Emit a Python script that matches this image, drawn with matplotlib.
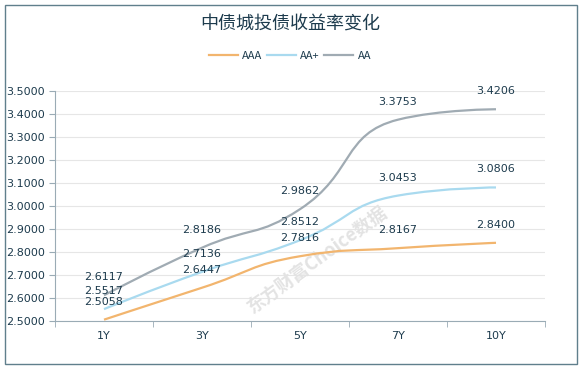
import matplotlib
matplotlib.use('Agg')
from matplotlib import pyplot as plt
from matplotlib.path import Path
from matplotlib.patches import PathPatch, Rectangle
from matplotlib.lines import Line2D
import numpy as np

plt.rcParams['font.family'] = ['Noto Sans CJK SC', 'DejaVu Sans']

categories = ['1Y', '3Y', '5Y', '7Y', '10Y']
aaa = [2.5058, 2.6447, 2.7816, 2.8167, 2.8400]
aa_plus = [2.5517, 2.7136, 2.8512, 3.0453, 3.0806]
aa = [2.6117, 2.8186, 2.9862, 3.3753, 3.4206]
series_names = ['AAA', 'AA+', 'AA']
colors = ['#f2b56e', '#a9daef', '#a0abb3']
yticks = [2.5 + 0.1 * i for i in range(11)]

text_color = '#1d3b4d'


def clamp(v, a, b):
    return min(max(v, min(a, b)), max(a, b))


def smooth_path(xs, ys, sx, sy, smooth=0.5):
    # same smoothing idea as the web chart lib, done in pixel space
    px = [float(v) * sx for v in xs]
    py = [float(v) * sy for v in ys]
    n = len(px)
    verts = [(px[0], py[0])]
    codes = [Path.MOVETO]
    cp0 = (px[0], py[0])
    for i in range(1, n):
        x, y = px[i], py[i]
        if i == n - 1:
            cp1 = (x, y)
            ncp0 = (x, y)
        else:
            prx, pry = px[i - 1], py[i - 1]
            nx, ny = px[i + 1], py[i + 1]
            vx, vy = nx - prx, ny - pry
            l0 = np.hypot(x - prx, y - pry)
            l1 = np.hypot(nx - x, ny - y)
            r = l1 / (l0 + l1)
            ncx = clamp(x + vx * smooth * r, nx, x)
            ncy = clamp(y + vy * smooth * r, ny, y)
            vx, vy = ncx - x, ncy - y
            c1x = clamp(x - vx * l0 / l1, prx, x)
            c1y = clamp(y - vy * l0 / l1, pry, y)
            vx, vy = x - c1x, y - c1y
            ncp0 = (x + vx * l1 / l0, y + vy * l1 / l0)
            cp1 = (c1x, c1y)
        verts += [cp0, cp1, (x, y)]
        codes += [Path.CURVE4] * 3
        cp0 = ncp0
    verts = [(vx / sx, vy / sy) for vx, vy in verts]
    return Path(verts, codes)


fig = plt.figure(figsize=(5.8, 3.69), dpi=100)
ax = fig.add_axes([55 / 580, 48 / 369, 490 / 580, 230 / 369])

x = np.arange(len(categories))
for vals, name, c in zip([aaa, aa_plus, aa], series_names, colors):
    p = smooth_path(x, vals, 98.0, 230.0)
    ax.add_patch(PathPatch(p, facecolor='none', edgecolor=c, lw=1.6, zorder=3))
    for xi, v in zip(x, vals):
        ax.annotate(f'{v:.4f}', (xi, v), xytext=(0, 13), textcoords='offset points',
                    ha='center', va='center', fontsize=8, color=text_color,
                    family=['DejaVu Sans'], zorder=4)

ax.set_xlim(-0.5, 4.5)
ax.set_ylim(2.5, 3.5)
ax.set_yticks(yticks)
ax.set_yticklabels([f'{t:.4f}' for t in yticks], fontsize=8, color=text_color,
                   family=['DejaVu Sans'])
ax.set_xticks(x)
ax.set_xticklabels(categories, fontsize=8, color=text_color, family=['DejaVu Sans'])
ax.set_xticks(np.arange(-0.5, 5, 1), minor=True)
ax.tick_params(axis='x', which='major', length=0, pad=7)
ax.tick_params(axis='x', which='minor', length=4, color='#9aabb5')
ax.tick_params(axis='y', length=4, color='#9aabb5', pad=3)
ax.grid(axis='y', color='#e6e6e6', lw=0.8)
ax.set_axisbelow(True)
for s in ['top', 'right']:
    ax.spines[s].set_visible(False)
ax.spines['left'].set_color('#9aabb5')
ax.spines['bottom'].set_color('#9aabb5')

# watermark
ax.text(2.18, 2.77, '东方财富Choice数据', rotation=36, fontsize=13, color='#e3e3e3',
        ha='center', va='center', style='italic', fontweight='bold',
        rotation_mode='anchor', zorder=1)

fig.text(0.5, 1 - 25 / 369, '中债城投债收益率变化', ha='center', va='center',
         fontsize=13, color=text_color)

handles = [Line2D([], [], color=c, lw=1.6) for c in colors]
fig.legend(handles, series_names, loc='center', bbox_to_anchor=(0.5, 1 - 56 / 369),
           ncol=3, frameon=False, fontsize=8, handlelength=2.6, columnspacing=0.4,
           handletextpad=0.4, labelcolor=text_color)

fig.patches.append(Rectangle((5 / 580, 5 / 369), 572 / 580, 359 / 369,
                             transform=fig.transFigure, fill=False,
                             edgecolor='#607f8c', lw=1))

plt.savefig('out.png', dpi=100)
